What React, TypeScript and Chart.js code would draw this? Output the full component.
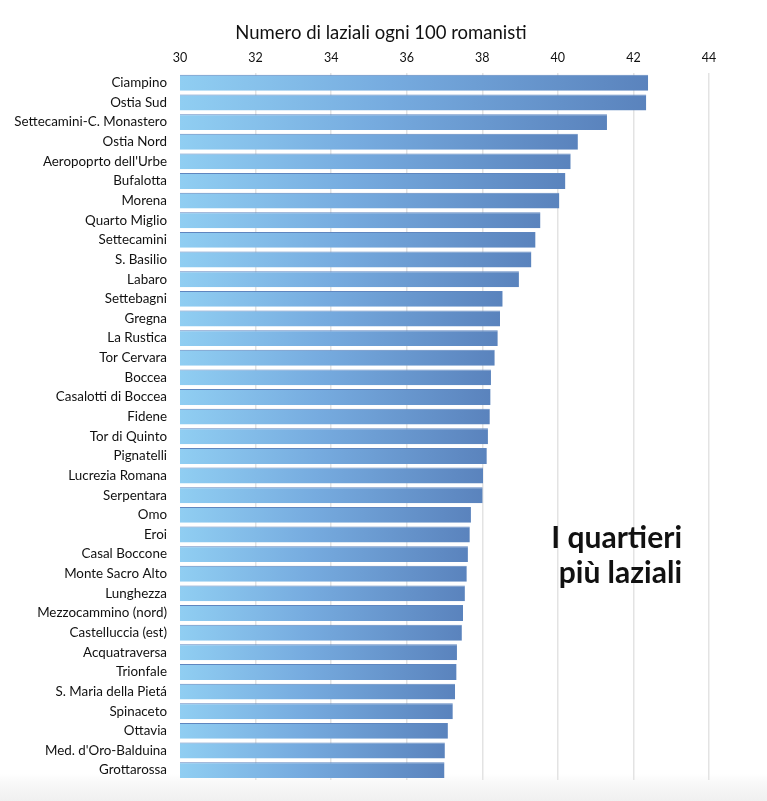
import React, { useEffect, useRef } from "react";
import { Chart, registerables } from "chart.js";

Chart.register(...registerables);

const categories = [
  "Ciampino",
  "Ostia Sud",
  "Settecamini-C. Monastero",
  "Ostia Nord",
  "Aeropoprto dell'Urbe",
  "Bufalotta",
  "Morena",
  "Quarto Miglio",
  "Settecamini",
  "S. Basilio",
  "Labaro",
  "Settebagni",
  "Gregna",
  "La Rustica",
  "Tor Cervara",
  "Boccea",
  "Casalotti di Boccea",
  "Fidene",
  "Tor di Quinto",
  "Pignatelli",
  "Lucrezia Romana",
  "Serpentara",
  "Omo",
  "Eroi",
  "Casal Boccone",
  "Monte Sacro Alto",
  "Lunghezza",
  "Mezzocammino (nord)",
  "Castelluccia (est)",
  "Acquatraversa",
  "Trionfale",
  "S. Maria della Pietá",
  "Spinaceto",
  "Ottavia",
  "Med. d'Oro-Balduina",
  "Grottarossa",
];

const values = [
  42.39, 42.34, 41.3, 40.53, 40.34, 40.2, 40.04, 39.54, 39.41, 39.3,
  38.97, 38.54, 38.47, 38.41, 38.33, 38.23, 38.22, 38.2, 38.15, 38.12,
  38.02, 38.01, 37.7, 37.67, 37.62, 37.59, 37.54, 37.49, 37.46, 37.33,
  37.32, 37.28, 37.22, 37.09, 37.01, 37.0,
];

const xMin = 30;
const xMax = 44;
const xStep = 2;

const titleText = "Numero di laziali ogni 100 romanisti";
const annotationLines = ["I quartieri", "più laziali"];

const FONT = "Lato, 'Open Sans', sans-serif";

const textPlugin = {
  id: "textPlugin",
  afterDatasetsDraw(chart: any) {
    const ctx = chart.ctx;
    ctx.save();
    ctx.fillStyle = "#111";
    ctx.font = `18.5px ${FONT}`;
    ctx.textAlign = "center";
    ctx.textBaseline = "middle";
    ctx.fillText(titleText, 381, 33);

    ctx.font = `bold 30px ${FONT}`;
    ctx.textAlign = "right";
    ctx.textBaseline = "alphabetic";
    ctx.fillText(annotationLines[0], 682, 548);
    ctx.fillText(annotationLines[1], 682, 583);
    ctx.restore();
  },
};

export default function App() {
  const ref = useRef<HTMLCanvasElement | null>(null);

  useEffect(() => {
    document.body.style.margin = "0";
    const canvas = ref.current;
    if (!canvas) return;

    const chart = new Chart(canvas, {
      type: "bar",
      data: {
        labels: categories,
        datasets: [
          {
            data: values,
            backgroundColor: (c: any) => {
              const chartRef = c.chart;
              const xs = chartRef.scales && chartRef.scales.x;
              if (!xs || !chartRef.chartArea || typeof c.raw !== "number") return "#74a7d8";
              const x0 = xs.getPixelForValue(xMin);
              const x1 = xs.getPixelForValue(c.raw);
              if (!isFinite(x0) || !isFinite(x1) || x1 <= x0) return "#74a7d8";
              const g = chartRef.ctx.createLinearGradient(x0, 0, x1, 0);
              g.addColorStop(0, "#90cef2");
              g.addColorStop(0.45, "#76abdf");
              g.addColorStop(1, "#5a83bd");
              return g;
            },
            borderColor: "#5f86bf",
            borderWidth: { top: 1, right: 0, bottom: 0, left: 0 },
            borderSkipped: false,
            barPercentage: 0.81,
            categoryPercentage: 1,
          },
        ],
      },
      options: {
        indexAxis: "y",
        animation: false,
        responsive: false,
        maintainAspectRatio: false,
        layout: { padding: { top: 45, right: 58, bottom: 18, left: 0 } },
        plugins: {
          legend: { display: false },
          tooltip: { enabled: false },
          title: { display: false },
        },
        scales: {
          x: {
            position: "top",
            min: xMin,
            max: xMax,
            afterFit: (s: any) => {
              s.height = 28;
            },
            ticks: {
              stepSize: xStep,
              padding: 8,
              color: "#111",
              font: { family: FONT, size: 12.5 },
            },
            grid: {
              color: (c: any) => (c.tick && c.tick.value === xMin ? "rgba(0,0,0,0)" : "#e3e3e3"),
              lineWidth: 1.5,
              drawTicks: false,
            },
            border: { display: false },
          },
          y: {
            afterFit: (s: any) => {
              s.width = 180;
            },
            ticks: {
              padding: 13,
              color: "#111",
              autoSkip: false,
              font: { family: FONT, size: 13.4 },
            },
            grid: { display: false, drawTicks: false },
            border: { display: false },
          },
        },
      },
      plugins: [textPlugin],
    } as any);

    chart.update();

    return () => chart.destroy();
  }, []);

  return (
    <div
      style={{
        width: 767,
        height: 801,
        background:
          "linear-gradient(to bottom, #ffffff 0px, #ffffff 774px, #f8f8f8 783px, #f0f0f0 801px)",
      }}
    >
      <canvas ref={ref} width={767} height={801} style={{ display: "block" }} />
    </div>
  );
}
